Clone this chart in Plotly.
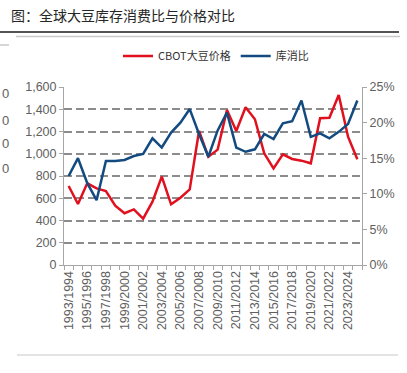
import plotly.graph_objects as go

seasons = [f"{y}/{y+1}" for y in range(1993, 2025)]
price = [710, 548, 734, 689, 665, 533, 465, 500, 416, 569, 794, 545, 605, 680,
         1205, 974, 1037, 1393, 1205, 1418, 1310, 1004, 869, 995, 953, 938, 914,
         1319, 1324, 1528, 1153, 950]
ratio_pct = [12.5, 15.0, 11.5, 9.1, 14.6, 14.6, 14.75, 15.3, 15.6, 17.8, 16.5, 18.6,
             20.0, 21.9, 18.4, 15.2, 18.9, 21.4, 16.5, 15.9, 16.25, 18.4, 17.7, 19.9,
             20.2, 23.1, 18.0, 18.5, 17.8, 18.7, 19.8, 23.1]
left_ticks = [0, 200, 400, 600, 800, 1000, 1200, 1400, 1600]
right_ticks = [0, 0.05, 0.10, 0.15, 0.20, 0.25]

W, H = 407, 373
L, R, T, B = 64, 45, 87, 108
PW, PH = W - L - R, H - T - B

def px(x):
    return (x - L) / PW

def py(y):
    return (H - B - y) / PH

RED = "#E1101E"
BLUE = "#134B80"
GRAY_TXT = "#606060"
FONT = "Liberation Sans, Arial, sans-serif"
CJK = "Noto Sans CJK SC, sans-serif"

idx = list(range(len(seasons)))
ratio = [v / 100 for v in ratio_pct]

fig = go.Figure()
fig.add_trace(go.Scatter(x=idx, y=price, mode="lines", name="CBOT大豆价格",
                         line=dict(color=RED, width=2.5), yaxis="y"))
fig.add_trace(go.Scatter(x=idx, y=ratio, mode="lines", name="库消比",
                         line=dict(color=BLUE, width=2.5), yaxis="y2"))

fig.update_layout(
    width=W, height=H,
    margin=dict(l=L, r=R, t=T, b=B),
    paper_bgcolor="white", plot_bgcolor="white",
    font=dict(family=FONT, size=12.5, color=GRAY_TXT),
    showlegend=True,
    legend=dict(orientation="h", x=px(118), y=py(56), xanchor="left", yanchor="middle",
                font=dict(family=CJK, size=11, color="#333333"),
                bgcolor="rgba(0,0,0,0)", itemwidth=30, tracegroupgap=0),
    xaxis=dict(
        range=[-0.5, len(seasons) - 0.5],
        tickmode="array", tickvals=idx[::2], ticktext=seasons[::2],
        tickangle=-90, ticks="", showgrid=False, zeroline=False,
        showline=True, linecolor="#A6A6A6", linewidth=1,
        tickfont=dict(family=FONT, size=12.5, color=GRAY_TXT),
        ticklabelstandoff=0,
        minor=dict(ticks="outside", tick0=0.5, dtick=1, ticklen=4,
                   tickcolor="#A6A6A6", showgrid=False),
    ),
    yaxis=dict(
        range=[0, 1600], tickmode="array", tickvals=left_ticks,
        tickformat=",", showgrid=True, gridcolor="#8C8C8C", gridwidth=1.5,
        griddash="8px,4px", zeroline=False,
        showline=True, linecolor="#A6A6A6", linewidth=1,
        ticks="outside", ticklen=4, tickcolor="#A6A6A6",
        tickfont=dict(family=FONT, size=12.5, color=GRAY_TXT),
    ),
    yaxis2=dict(
        range=[0, 0.25], tickmode="array", tickvals=right_ticks,
        tickformat=".0%", overlaying="y", side="right", showgrid=False,
        zeroline=False, showline=True, linecolor="#A6A6A6", linewidth=1,
        ticks="outside", ticklen=4, tickcolor="#A6A6A6",
        tickfont=dict(family=FONT, size=12.5, color=GRAY_TXT),
    ),
)

shapes = [
    dict(type="line", xref="paper", yref="paper", x0=px(0), x1=px(399), y0=py(32), y1=py(32),
         line=dict(color="#1a1a1a", width=1.5)),
    dict(type="line", xref="paper", yref="paper", x0=px(16), x1=px(400), y0=py(36.5), y1=py(36.5),
         line=dict(color="#C8C8C8", width=1.5)),
    dict(type="line", xref="paper", yref="paper", x0=px(0), x1=px(9), y0=py(45), y1=py(45),
         line=dict(color="#C8C8C8", width=1.5)),
    dict(type="line", xref="paper", yref="paper", x0=px(17), x1=px(398), y0=py(355), y1=py(355),
         line=dict(color="#C8C8C8", width=1.2)),
]
fig.update_layout(shapes=shapes)

annotations = [
    dict(text="图：全球大豆库存消费比与价格对比", xref="paper", yref="paper",
         x=px(9), y=py(15), xanchor="left", yanchor="middle", showarrow=False,
         font=dict(family=CJK, size=14, color="#262626")),
]
for yy in [93, 120, 143, 168]:
    annotations.append(dict(text="0", xref="paper", yref="paper", x=px(0), y=py(yy),
                            xanchor="left", yanchor="middle", showarrow=False,
                            font=dict(family=FONT, size=13, color=GRAY_TXT)))
fig.update_layout(annotations=annotations)

fig.write_html("out.html",
               config={"displayModeBar": False},
               post_script="document.body.style.margin='0';document.body.style.overflow='hidden';")
